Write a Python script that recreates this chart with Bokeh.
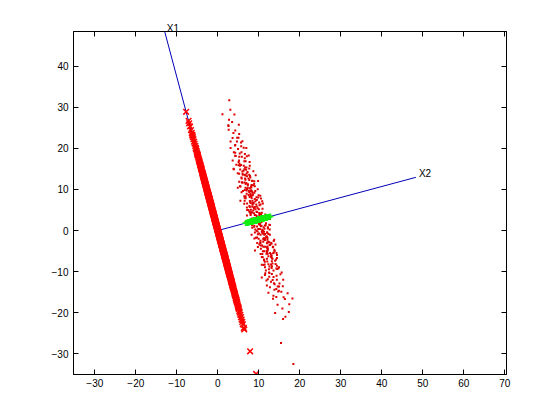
import numpy as np
from bokeh.plotting import figure
from bokeh.models import Range1d, LinearAxis, FixedTicker, Label
from bokeh.embed import file_html
from bokeh.resources import INLINE

# Scores of each sample along the two principal directions
pc1 = [
    29.9, 27.0, 25.3, 24.6, 24.1, 23.5, 23.0, 22.4, 21.9, 21.3,
    20.8, 20.5, 20.1, 19.7, 19.4, 19.0, 18.6, 18.3, 17.9, 17.6,
    17.2, 16.9, 16.5, 16.3, 16.0, 15.8, 15.5, 15.3, 15.1, 19.2,
    17.4, 16.7, 15.6, 14.8, 14.6, 14.3, 14.1, 13.9, 13.6, 13.4,
    13.1, 12.9, 12.6, 12.4, 12.2, 11.9, 11.7, 11.5, 11.2, 11.0,
    10.8, 10.5, 10.3, 10.1, 14.5, 13.8, 13.2, 12.7, 12.0, 11.4,
    10.9, 10.6, 14.0, 9.9, 9.7, 9.5, 9.2, 9.0, 8.8, 8.6,
    8.3, 8.1, 7.9, 7.7, 7.4, 7.2, 7.0, 6.8, 6.6, 6.3,
    6.1, 5.9, 5.7, 5.5, 5.3, 5.1, 9.6, 9.1, 8.7, 8.2,
    7.8, 7.3, 6.9, 6.4, 6.0, 5.6, 5.2, 9.4, 8.5, 7.5,
    6.2, 4.9, 4.7, 4.5, 4.3, 4.1, 3.9, 3.7, 3.5, 3.3,
    3.1, 2.9, 2.7, 2.5, 2.3, 2.1, 1.9, 1.7, 1.5, 1.3,
    1.1, 0.9, 0.7, 0.5, 0.3, 0.1, 4.8, 4.4, 4.0, 3.6,
    3.2, 2.8, 2.4, 2.0, 1.6, 1.2, 0.8, 0.4, 4.6, 3.4,
    2.2, 1.0, 0.2, -0.1, -0.3, -0.5, -0.7, -0.9, -1.1, -1.3,
    -1.5, -1.7, -1.9, -2.1, -2.3, -2.5, -2.7, -2.9, -3.1, -3.3,
    -3.5, -3.7, -3.9, -4.1, -4.3, -4.5, -4.7, -4.9, -0.2, -0.6,
    -1.0, -1.4, -1.8, -2.2, -2.6, -3.0, -3.4, -3.8, -4.2, -4.6,
    -0.4, -1.6, -2.8, -4.0, -4.8, -5.1, -5.3, -5.5, -5.7, -5.9,
    -6.1, -6.3, -6.6, -6.8, -7.0, -7.2, -7.4, -7.7, -7.9, -8.1,
    -8.3, -8.6, -8.8, -9.0, -9.2, -9.5, -9.7, -9.9, -5.2, -5.6,
    -6.0, -6.4, -6.9, -7.3, -7.8, -8.2, -8.7, -9.1, -9.6, -5.8,
    -6.7, -7.6, -8.5, -10.1, -10.3, -10.6, -10.8, -11.0, -11.3, -11.5,
    -11.7, -12.0, -12.2, -12.4, -12.7, -12.9, -13.1, -13.4, -13.6, -13.9,
    -14.1, -14.3, -14.6, -14.8, -10.5, -11.1, -11.8, -12.5, -13.2, -13.8,
    -14.4, -10.9, -12.8, -15.1, -15.4, -15.7, -16.0, -16.3, -16.6, -16.9,
    -17.2, -17.5, -17.8, -18.1, -18.4, -18.8, -19.1, -19.5, -19.8, -15.9,
    -17.0, -20.3, -20.65, -21.2, -21.8, -22.4, -23.0, -23.6, -24.5, -24.9,
    -30.4, -36.1, 27.6, 23.9, 26.2,
    0.6, -0.8, 1.4, -1.2, 2.6, -2.4, 3.8, -3.6, 5.4, -5.4,
    6.5, -6.5, 7.6, -7.5, 8.9, -8.9, 10.2, -10.2, 11.6, -11.6,
    0.0, 1.8, -1.3, 3.0, -2.0, 4.2, -3.2, 5.8, -4.4, 7.1,
    -6.2, 8.4, -7.1, 9.8, -8.4, 12.3, -9.4, 13.5, -10.7, 0.5,
    2.5, -0.9, 3.5, -2.5, 4.5, -3.7, 6.0, -5.0, 7.0, -6.0,
    8.0, -7.0, 9.3, -8.0, 10.7, -9.3, 11.8, -11.2, 15.7, -12.3,
    1.5, -1.5, 2.9, -2.7, 4.1, -4.1, 5.5, -5.5, 6.7, -6.7,
    7.9, -7.9, 9.0, -9.0, 10.4, -10.4, 12.5, -13.0, 17.8, -16.2,
    0.2, -0.4, 1.0, -1.8, 2.2, -3.0, 3.4, -4.6, 4.6, -5.9,
    6.1, -6.9, 7.3, -8.2, 8.7, -9.7, 13.0, -14.2, 18.9, -18.0,
    1.9, -2.1, 3.2, -3.3, 4.8, -4.9, 6.4, -6.3, 8.1, -8.6,
    9.5, -9.9, 11.1, -12.6, 14.3, -15.3, 16.4, -17.4, 20.6, -19.3,
]
pc2 = [
    10.9, 8.4, 9.6, 10.2, 9.1, 11.6, 8.9, 10.4, 9.8, 11.1,
    9.3, 10.7, 8.6, 10.1, 11.4, 9.5, 8.2, 10.8, 9.9, 11.9,
    9.0, 10.5, 8.8, 11.2, 9.7, 10.3, 7.9, 10.9, 9.4, 11.0,
    8.7, 10.0, 11.5, 9.2, 10.6, 8.5, 11.8, 9.6, 10.2, 7.6,
    10.4, 9.1, 11.3, 9.8, 8.3, 10.7, 12.1, 9.4, 10.0, 8.9,
    11.0, 9.7, 10.5, 8.1, 10.9, 9.3, 11.6, 10.1, 8.6, 9.9,
    10.3, 12.4, 9.0, 10.6, 8.8, 11.2, 9.5, 10.0, 7.4, 10.8,
    9.2, 11.5, 10.2, 8.4, 9.8, 12.0, 10.5, 9.1, 11.0, 8.7,
    10.4, 9.6, 11.8, 10.0, 8.2, 10.7, 9.3, 12.6, 9.9, 10.6,
    8.9, 10.3, 11.3, 9.5, 10.1, 7.2, 11.6, 9.7, 10.9, 8.0,
    10.5, 9.4, 11.1, 8.6, 10.2, 12.3, 9.8, 10.7, 9.0, 11.4,
    10.0, 8.5, 10.8, 9.6, 11.9, 9.2, 10.4, 7.8, 10.9, 9.7,
    11.2, 10.1, 8.8, 10.6, 9.3, 12.8, 10.0, 9.5, 11.5, 8.3,
    10.7, 9.1, 11.0, 10.3, 8.7, 9.9, 12.2, 10.5, 9.4, 11.7,
    9.0, 10.8, 7.0, 10.2, 11.3, 9.6, 10.9, 8.4, 10.1, 11.8,
    9.5, 10.4, 12.5, 8.9, 10.0, 11.1, 9.3, 10.6, 7.7, 10.3,
    11.5, 9.8, 10.7, 8.5, 12.0, 9.1, 10.4, 11.2, 9.7, 13.0,
    10.1, 8.8, 11.4, 9.6, 10.5, 12.3, 9.2, 10.9, 8.1, 11.0,
    9.9, 10.6, 8.6, 11.7, 10.2, 9.4, 11.1, 10.0, 12.7, 8.9,
    10.8, 9.5, 11.3, 10.1, 7.5, 10.6, 11.9, 9.3, 10.4, 12.1,
    9.0, 10.9, 11.6, 8.7, 10.3, 12.4, 9.8, 11.0, 10.5, 9.2,
    11.4, 8.4, 10.7, 12.0, 9.6, 10.2, 11.8, 8.9, 10.9, 11.2,
    9.7, 10.6, 10.0, 11.1, 9.1, 10.8, 8.2, 8.6, 10.4, 11.5,
    9.9, 11.7, 10.3, 8.8, 11.9, 10.6, 9.4, 8.3, 10.0, 12.4,
    9.2, 11.0, 8.7, 8.3, 11.9, 9.8, 10.5, 12.1, 9.5, 7.4,
    10.2, 8.9, 11.6, 9.8, 9.3, 12.3, 8.1, 11.2, 8.7, 10.6,
    11.8, 9.6, 8.0, 10.4, 11.1, 9.0, 12.5, 8.7, 11.3, 9.9,
    10.9, 11.5, 13.3, 9.4, 12.2, 10.3, 8.3, 11.6, 10.5, 9.8,
    7.8, 9.4, 10.55, 9.1, 11.2,
    9.4, 10.7, 11.5, 8.9, 10.2, 12.0, 9.0, 10.5, 11.2, 8.5,
    10.0, 11.8, 9.3, 10.6, 8.1, 11.0, 9.7, 12.2, 10.4, 8.8,
    11.4, 9.6, 10.3, 8.2, 12.6, 9.9, 10.8, 8.6, 11.1, 10.1,
    9.2, 11.3, 10.5, 8.7, 12.1, 9.5, 10.9, 7.6, 11.6, 10.0,
    8.6, 10.4, 12.3, 9.1, 10.7, 11.5, 8.4, 10.2, 9.8, 12.5,
    10.6, 9.0, 11.7, 10.3, 8.9, 11.1, 9.4, 10.8, 12.0, 9.6,
    10.9, 8.3, 9.9, 11.9, 10.1, 8.8, 12.2, 9.3, 10.6, 11.4,
    9.5, 10.2, 8.0, 12.4, 11.0, 9.7, 10.5, 8.5, 11.3, 10.0,
    12.0, 9.2, 10.8, 11.6, 8.7, 10.3, 9.6, 11.2, 7.9, 10.9,
    9.9, 12.7, 10.4, 8.6, 11.5, 9.1, 10.7, 12.0, 9.4, 10.6,
    8.8, 11.0, 10.2, 9.5, 12.2, 10.6, 8.4, 11.8, 9.7, 10.3,
    11.3, 9.0, 10.9, 11.4, 9.3, 10.8, 8.9, 10.1, 10.4, 9.6,
]

# Principal axis vectors drawn from the origin, and their names
x1_vec = [-12.94, 48.30]
x2_vec = [48.30, 12.94]
axis_names = ["X1", "X2"]

x_ticks = [-30, -20, -10, 0, 10, 20, 30, 40, 50, 60, 70]
y_ticks = [-30, -20, -10, 0, 10, 20, 30, 40]

t1 = np.array(pc1)
t2 = np.array(pc2)
u1 = np.array(x1_vec) / np.hypot(*x1_vec)
u2 = np.array(x2_vec) / np.hypot(*x2_vec)

dots_x = t1 * u1[0] + t2 * u2[0]
dots_y = t1 * u1[1] + t2 * u2[1]
p1_x, p1_y = t1 * u1[0], t1 * u1[1]
p2_x, p2_y = t2 * u2[0], t2 * u2[1]

FONT = "Liberation Sans"

p = figure(width=548, height=410,
           x_range=Range1d(-35.2, 70.4), y_range=Range1d(-35.0, 48.4),
           output_backend="svg", toolbar_location=None,
           min_border_left=73, min_border_top=31,
           min_border_right=42, min_border_bottom=36)
p.xgrid.visible = False
p.ygrid.visible = False
p.outline_line_color = "black"
p.outline_line_width = 1
p.background_fill_color = "white"
p.border_fill_color = "white"

def style_axis(ax, ticks, show_labels, standoff):
    ax.ticker = FixedTicker(ticks=ticks)
    ax.major_tick_in = 5
    ax.major_tick_out = 0
    ax.minor_tick_line_color = None
    ax.axis_line_color = "black"
    ax.major_tick_line_color = "black"
    ax.major_label_text_font = FONT
    ax.major_label_text_color = "black"
    ax.major_label_standoff = standoff
    ax.major_label_text_font_size = "10px"
    if not show_labels:
        ax.major_label_overrides = {t: "" for t in ticks}

style_axis(p.xaxis[0], x_ticks, True, 4)
style_axis(p.yaxis[0], y_ticks, True, 5)
top_ax = LinearAxis()
style_axis(top_ax, x_ticks, False, 0)
p.add_layout(top_ax, "above")
right_ax = LinearAxis()
style_axis(right_ax, y_ticks, False, 0)
p.add_layout(right_ax, "right")

# the X1 name sits above the frame, at the end of the X1 vector
x1_name_x = x1_vec[0] + 2.0
name_ax = LinearAxis(ticker=FixedTicker(ticks=[x1_name_x]),
                     major_label_overrides={x1_name_x: axis_names[0]},
                     axis_line_color=None, major_tick_line_color=None,
                     minor_tick_line_color=None, major_tick_in=0,
                     major_tick_out=0, major_label_standoff=-2,
                     major_label_text_font=FONT,
                     major_label_text_font_size="10px",
                     major_label_text_color="black")
p.add_layout(name_ax, "above")

# principal axes
p.line([0, x1_vec[0]], [0, x1_vec[1]], line_color="#0000b8", line_width=1)
p.line([0, x2_vec[0]], [0, x2_vec[1]], line_color="#0000b8", line_width=1)

# data, projections
p.scatter(dots_x, dots_y, marker="square", size=2,
          fill_color="#dd0000", line_color=None)
p.scatter(p1_x, p1_y, marker="x", size=8, line_color="red", line_width=1.5)
p.scatter(p2_x, p2_y, marker="cross", size=6, line_color="#11ee11", line_width=1.5)

p.add_layout(Label(x=x2_vec[0], y=x2_vec[1], text=axis_names[1],
                   x_offset=3, y_offset=4,
                   text_baseline="alphabetic", text_align="left",
                   text_font=FONT, text_font_size="10px",
                   text_color="black"))

open("out.html", "w").write(file_html(p, INLINE))
